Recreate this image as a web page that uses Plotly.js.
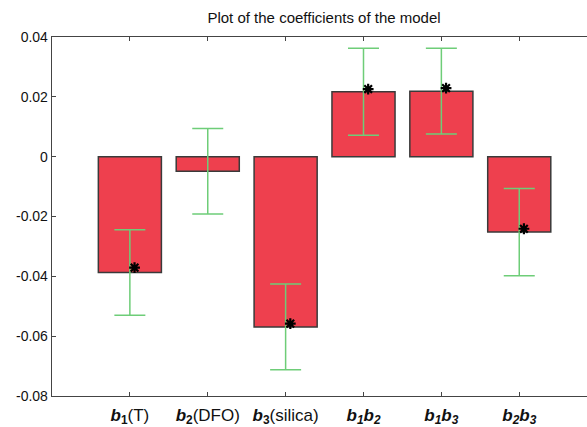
<!DOCTYPE html>
<html>
<head>
<meta charset="utf-8">
<script src="https://cdn.plot.ly/plotly-3.0.1.min.js"></script>
<style>
html,body{margin:0;padding:0;overflow:hidden;background:#fff;}
#chart{width:587px;height:427px;}
</style>
</head>
<body>
<div id="chart"></div>
<script>
const categories = [
  '<b><i>b</i><sub>1</sub></b>(T)',
  '<b><i>b</i><sub>2</sub></b>(DFO)',
  '<b><i>b</i><sub>3</sub></b>(silica)',
  '<b><i>b<sub>1</sub>b<sub>2</sub></i></b>',
  '<b><i>b<sub>1</sub>b<sub>3</sub></i></b>',
  '<b><i>b<sub>2</sub>b<sub>3</sub></i></b>'
];
const coefficients = [-0.0387, -0.0049, -0.0569, 0.0217, 0.0219, -0.0252];
const errors = [0.0143, 0.0143, 0.0143, 0.0145, 0.0143, 0.0146];
const starCategories = [1, 3, 4, 5, 6];
const starValues = [-0.0371, -0.0558, 0.0226, 0.0229, -0.0241];
const yTicks = [-0.08, -0.06, -0.04, -0.02, 0, 0.02, 0.04];
const yTickLabels = ['-0.08', '-0.06', '-0.04', '-0.02', '0', '0.02', '0.04'];

const positions = categories.map((c, i) => i + 1);

const bars = {
  type: 'bar',
  x: positions,
  y: coefficients,
  width: 0.81,
  marker: {color: 'rgb(238,64,78)', line: {color: '#3a3a3a', width: 1.5}},
  error_y: {type: 'data', array: errors, visible: true, color: 'rgb(110,205,120)', thickness: 1.5, width: 15.5},
  hoverinfo: 'none'
};
const stars = {
  type: 'scatter',
  mode: 'markers',
  x: starCategories.map(c => c + 0.06),
  y: starValues,
  marker: {symbol: 'asterisk-open', size: 9, color: '#000', line: {color: '#000', width: 2.2}},
  hoverinfo: 'none'
};

const xRange = [0, 6.87];

const layout = {
  width: 587, height: 427,
  margin: {l: 52, r: 0, t: 37, b: 31},
  paper_bgcolor: '#fff', plot_bgcolor: '#fff',
  showlegend: false,
  bargap: 0,
  title: {text: 'Plot of the coefficients of the model', x: 0.552, xanchor: 'center', xref: 'container', y: 0.958, yanchor: 'middle',
          font: {family: 'Liberation Sans, Arial, sans-serif', size: 15, color: '#111'}},
  font: {family: 'Liberation Sans, Arial, sans-serif', color: '#111'},
  xaxis: {
    range: xRange, tickvals: positions, ticktext: categories,
    showline: true, linecolor: '#444', linewidth: 1.3, mirror: 'ticks',
    ticks: 'inside', ticklen: 4, tickcolor: '#444',
    showgrid: false, zeroline: false,
    tickfont: {size: 17, color: '#111'}, ticklabelstandoff: 3
  },
  yaxis: {
    range: [-0.08, 0.04], tickvals: yTicks, ticktext: yTickLabels,
    showline: true, linecolor: '#444', linewidth: 1.3,
    ticks: 'inside', ticklen: 4, tickcolor: '#444',
    showgrid: false, zeroline: false,
    tickfont: {size: 14, color: '#111'}
  }
};

Plotly.newPlot('chart', [bars, stars], layout, {staticPlot: true, displayModeBar: false});
</script>
</body>
</html>
